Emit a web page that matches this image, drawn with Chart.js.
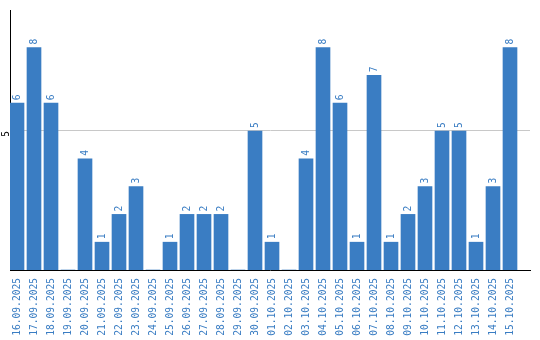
<!DOCTYPE html>
<html>
<head>
<meta charset="utf-8">
<script src="https://cdn.jsdelivr.net/npm/chart.js@4/dist/chart.umd.min.js"></script>
<style>
    html, body { margin: 0; padding: 0; background: #fff; }
    #wrap { width: 540px; height: 340px; }
</style>
</head>
<body>
<div id="wrap"><canvas id="barChart" width="540" height="340"></canvas></div>
<script>
// Chart data
var days = ['16.09.2025', '17.09.2025', '18.09.2025', '19.09.2025', '20.09.2025', '21.09.2025',
    '22.09.2025', '23.09.2025', '24.09.2025', '25.09.2025', '26.09.2025', '27.09.2025',
    '28.09.2025', '29.09.2025', '30.09.2025', '01.10.2025', '02.10.2025', '03.10.2025',
    '04.10.2025', '05.10.2025', '06.10.2025', '07.10.2025', '08.10.2025', '09.10.2025',
    '10.10.2025', '11.10.2025', '12.10.2025', '13.10.2025', '14.10.2025', '15.10.2025'];
var counts = [6, 8, 6, 0, 4, 1, 2, 3, 0, 1, 2, 2, 2, 0, 5, 1, 0, 4, 8, 6, 1, 7, 1, 2, 3, 5, 5, 1, 3, 8];
var yTicks = [5];

var blue = '#3a7dc3';
var monoFont = { family: 'DejaVu Sans Mono', size: 9.6 };

// Value labels drawn above each bar, rotated
var valueLabels = {
    id: 'valueLabels',
    afterDatasetsDraw: function(chart) {
        var ctx = chart.ctx;
        var meta = chart.getDatasetMeta(0);
        ctx.save();
        ctx.fillStyle = blue;
        ctx.font = '9.6px "DejaVu Sans Mono"';
        ctx.textAlign = 'left';
        ctx.textBaseline = 'middle';
        meta.data.forEach(function(bar, i) {
            if (!counts[i]) return;
            ctx.save();
            ctx.translate(bar.x, bar.y - 3);
            ctx.rotate(-Math.PI / 2);
            ctx.fillText(String(counts[i]), 0, 0);
            ctx.restore();
        });
        ctx.restore();
    }
};

var ctx = document.getElementById('barChart').getContext('2d');
new Chart(ctx, {
    type: 'bar',
    data: {
        datasets: [{
            data: counts.map(function(v, i) { return { x: i, y: v }; }),
            backgroundColor: blue,
            barThickness: 14
        }]
    },
    options: {
        responsive: false,
        animation: false,
        layout: { padding: { top: 10, right: 10, left: 0, bottom: 0 } },
        plugins: {
            legend: { display: false },
            tooltip: { enabled: false }
        },
        scales: {
            x: {
                type: 'linear',
                offset: false,
                min: -7 / 17,
                max: -7 / 17 + 520 / 17,
                afterBuildTicks: function(scale) {
                    scale.ticks = days.map(function(d, i) { return { value: i }; });
                },
                afterFit: function(scale) { scale.height = 70; },
                grid: { display: false, offset: false },
                border: { display: true, color: '#000', width: 1 },
                ticks: {
                    color: blue,
                    font: monoFont,
                    minRotation: 90,
                    maxRotation: 90,
                    padding: 0,
                    autoSkip: false,
                    callback: function(value) { return days[value]; }
                }
            },
            y: {
                min: 0,
                max: 9.35,
                afterBuildTicks: function(scale) {
                    scale.ticks = yTicks.map(function(v) { return { value: v }; });
                },
                afterFit: function(scale) { scale.width = 10; },
                grid: { color: '#c8c8c8', drawTicks: false },
                border: { display: true, color: '#000', width: 1 },
                ticks: {
                    color: '#000',
                    font: monoFont,
                    minRotation: 90,
                    maxRotation: 90,
                    padding: 4
                }
            }
        }
    },
    plugins: [valueLabels]
});
</script>
</body>
</html>
